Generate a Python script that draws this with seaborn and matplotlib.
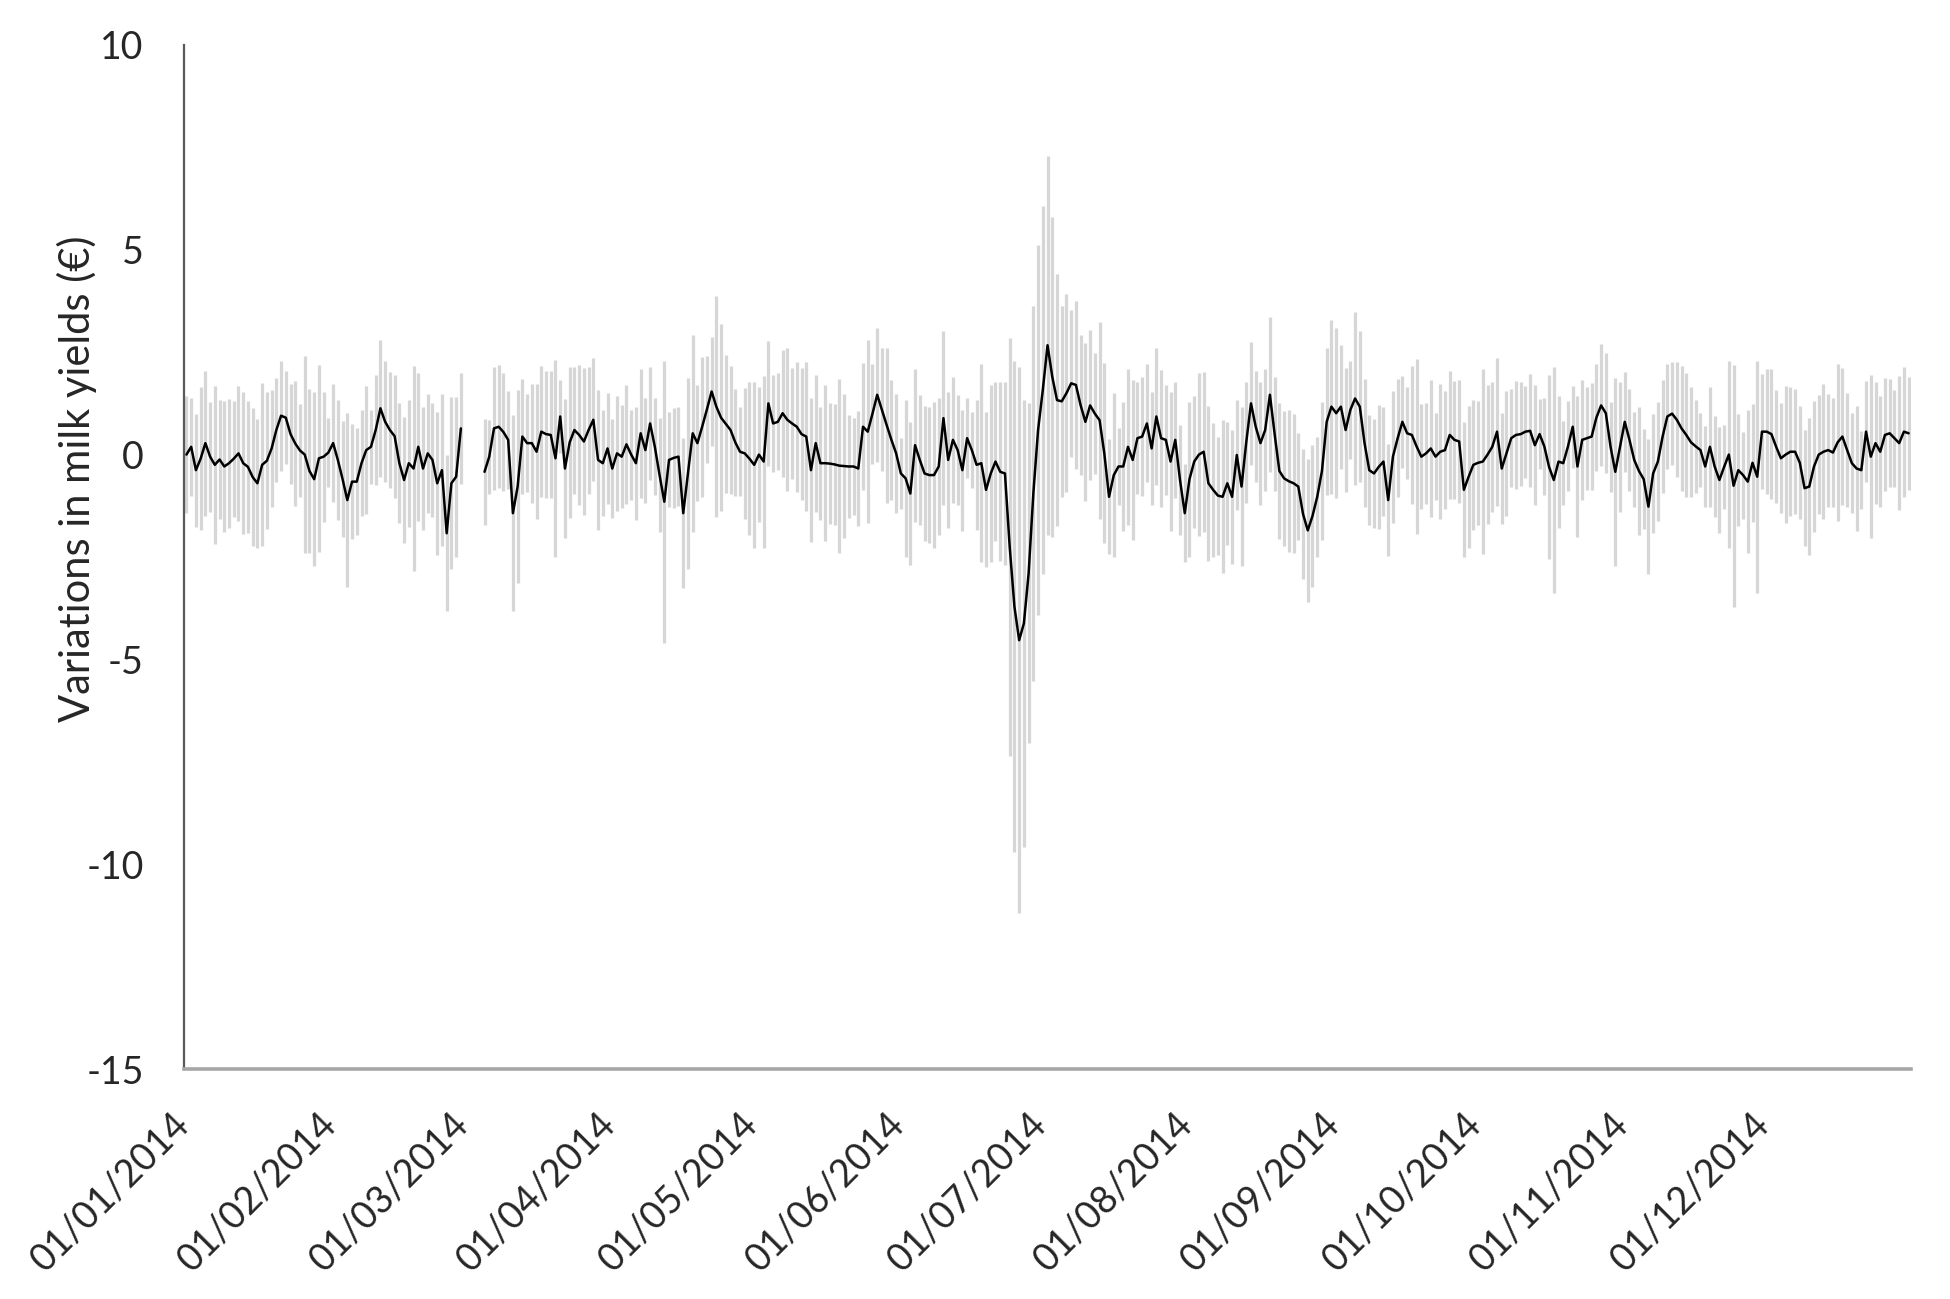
import numpy as np
import pandas as pd
import matplotlib
matplotlib.use("Agg")
import matplotlib.pyplot as plt
import seaborn as sns

nan = np.nan

# daily mean variation in milk yields, one list per month (nan = no data)
mean_jan = [0.0, 0.19, -0.38, -0.1, 0.28, -0.05, -0.25, -0.12, -0.29, -0.21,
            -0.1, 0.03, -0.21, -0.3, -0.55, -0.7, -0.25, -0.15, 0.15, 0.6,
            0.95, 0.9, 0.5, 0.27, 0.1, 0.0, -0.4, -0.6, -0.09, -0.05, 0.05]
mean_feb = [0.28, -0.13, -0.6, -1.11, -0.66, -0.66, -0.21, 0.11, 0.19, 0.6,
            1.13, 0.8, 0.6, 0.45, -0.21, -0.62, -0.21, -0.34, 0.19, -0.34,
            0.03, -0.13, -0.7, -0.38, -1.92, -0.7, -0.54, 0.64]
mean_mar = [nan, nan, nan, nan, -0.42, -0.05, 0.64, 0.68, 0.55, 0.36,
            -1.43, -0.78, 0.44, 0.28, 0.28, 0.07, 0.56, 0.5, 0.48, -0.09,
            0.93, -0.34, 0.3, 0.6, 0.48, 0.32, 0.6, 0.85, -0.13, -0.21, 0.15]
mean_apr = [-0.34, 0.03, -0.05, 0.25, 0.0, -0.21, 0.52, 0.11, 0.76, 0.19,
            -0.5, -1.15, -0.13, -0.08, -0.05, -1.43, -0.46, 0.52, 0.28, 0.68,
            1.1, 1.54, 1.17, 0.9, 0.75, 0.6, 0.3, 0.07, 0.03, -0.1]
mean_may = [-0.25, 0.0, -0.17, 1.25, 0.76, 0.8, 1.01, 0.85, 0.76, 0.68,
            0.5, 0.44, -0.38, 0.28, -0.21, -0.21, -0.22, -0.24, -0.27, -0.28,
            -0.29, -0.29, -0.34, 0.68, 0.56, 1.0, 1.46, 1.09, 0.72, 0.36, 0.03]
mean_jun = [-0.46, -0.58, -0.95, 0.23, -0.13, -0.46, -0.5, -0.5, -0.29, 0.89,
            -0.13, 0.36, 0.11, -0.38, 0.4, 0.11, -0.25, -0.21, -0.86, -0.46,
            -0.17, -0.42, -0.46, -2.25, -3.71, -4.53, -4.12, -2.9, -0.95, 0.6]
mean_jul = [1.58, 2.67, 1.9, 1.33, 1.3, 1.5, 1.74, 1.7, 1.2, 0.8,
            1.2, 1.0, 0.84, 0.03, -1.03, -0.5, -0.29, -0.29, 0.19, -0.13,
            0.4, 0.44, 0.76, 0.15, 0.93, 0.4, 0.36, -0.17, 0.36, -0.62, -1.43]
mean_aug = [-0.6, -0.17, 0.0, 0.07, -0.7, -0.86, -1.0, -1.03, -0.7, -1.03,
            -0.01, -0.78, 0.3, 1.25, 0.68, 0.28, 0.6, 1.46, 0.5, -0.4,
            -0.58, -0.65, -0.7, -0.78, -1.45, -1.85, -1.5, -1.03, -0.4, 0.8, 1.17]
mean_sep = [1.01, 1.17, 0.6, 1.09, 1.37, 1.17, 0.28, -0.38, -0.46, -0.3,
            -0.17, -1.11, -0.05, 0.4, 0.8, 0.52, 0.48, 0.2, -0.05, 0.03,
            0.15, -0.05, 0.07, 0.11, 0.48, 0.36, 0.32, -0.86, -0.54, -0.25]
mean_oct = [-0.2, -0.17, 0.0, 0.19, 0.56, -0.34, 0.03, 0.4, 0.48, 0.5,
            0.56, 0.58, 0.23, 0.5, 0.2, -0.3, -0.62, -0.17, -0.21, 0.2,
            0.68, -0.29, 0.36, 0.4, 0.44, 0.9, 1.2, 1.01, 0.19, -0.42, 0.19]
mean_nov = [0.8, 0.36, -0.13, -0.4, -0.6, -1.27, -0.46, -0.17, 0.44, 0.93,
            1.0, 0.85, 0.64, 0.48, 0.3, 0.2, 0.11, -0.29, 0.19, -0.29,
            -0.62, -0.3, 0.0, -0.76, -0.38, -0.5, -0.66, -0.2, -0.54, 0.56]
mean_dec = [0.56, 0.5, 0.19, -0.09, 0.0, 0.07, 0.07, -0.2, -0.82, -0.78,
            -0.29, 0.0, 0.07, 0.11, 0.05, 0.3, 0.44, 0.11, -0.21, -0.34,
            -0.38, 0.56, -0.05, 0.28, 0.07, 0.48, 0.52, 0.4, 0.28, 0.56, 0.52]

# half length of the daily error bars
err_jan = [1.42, 1.2, 1.38, 1.75, 1.77, 1.34, 1.93, 1.46, 1.59, 1.57,
           1.42, 1.65, 1.73, 1.61, 1.69, 1.57, 1.99, 1.67, 1.42, 1.28,
           1.34, 1.14, 1.22, 1.53, 1.14, 2.4, 2.01, 2.12, 2.28, 1.59, 0.85]
err_feb = [1.44, 1.46, 1.42, 2.12, 1.4, 1.3, 1.3, 1.57, 0.9, 1.34,
           1.67, 1.48, 1.42, 1.5, 1.46, 1.55, 1.55, 2.5, 1.8, 1.5,
           1.45, 1.4, 1.75, 1.85, 1.9, 2.1, 1.95, 1.35]
err_mar = [nan, nan, nan, nan, 1.3, 0.9, 1.5, 1.5, 1.45, 1.2,
           2.4, 2.35, 1.4, 1.2, 1.45, 1.65, 1.6, 1.55, 1.55, 2.4,
           0.9, 1.7, 1.85, 1.55, 1.7, 1.8, 1.55, 1.5, 1.7, 1.3, 1.35]
err_apr = [1.2, 1.4, 1.25, 1.46, 1.1, 1.38, 1.57, 1.28, 1.38, 1.18,
           1.4, 3.44, 1.16, 1.22, 1.2, 1.83, 2.34, 2.4, 1.42, 1.71,
           1.3, 1.34, 2.7, 2.28, 1.69, 1.57, 1.3, 1.08, 1.59, 1.87]
err_may = [2.03, 1.65, 2.1, 1.53, 1.18, 1.18, 1.55, 1.75, 1.36, 1.59,
           1.61, 1.81, 1.75, 1.67, 1.38, 1.91, 1.48, 1.48, 2.12, 1.75,
           1.26, 1.18, 1.4, 1.55, 2.24, 1.22, 1.63, 1.5, 1.89, 1.46, 1.46]
err_jun = [0.87, 1.91, 1.75, 1.87, 1.59, 1.65, 1.65, 1.79, 1.67, 2.12,
           1.67, 1.53, 1.34, 1.48, 0.98, 0.92, 1.59, 2.42, 1.89, 2.16,
           1.93, 2.18, 2.24, 5.1, 6.0, 6.67, 5.46, 4.15, 4.58, 4.52]
err_jul = [4.5, 4.63, 3.9, 3.07, 2.33, 2.42, 1.8, 2.05, 1.71, 1.93,
           1.83, 1.48, 2.4, 2.2, 1.4, 2.01, 0.94, 1.57, 1.91, 1.95,
           1.36, 1.46, 1.44, 1.38, 1.67, 1.67, 1.34, 1.69, 1.42, 1.34, 1.2]
err_aug = [1.89, 1.61, 1.99, 1.95, 1.89, 1.63, 1.44, 1.87, 1.5, 1.63,
           1.34, 1.95, 1.48, 1.5, 1.36, 1.5, 1.48, 1.89, 1.4, 1.65,
           1.65, 1.73, 1.69, 1.3, 1.59, 1.75, 1.73, 1.46, 1.69, 1.79, 2.12]
err_sep = [2.07, 1.51, 1.51, 1.2, 2.12, 1.85, 1.57, 1.34, 1.34, 1.51,
           1.32, 1.36, 1.61, 1.44, 1.12, 1.12, 1.69, 2.14, 1.28, 1.24,
           1.67, 1.06, 1.65, 1.44, 1.57, 1.44, 1.49, 1.65, 1.73, 1.59]
err_oct = [1.51, 2.26, 1.69, 1.59, 1.81, 1.36, 1.53, 1.2, 1.32, 1.26,
           1.12, 1.38, 1.46, 0.85, 1.18, 2.24, 2.75, 1.61, 1.02, 1.1,
           1.0, 1.71, 1.46, 1.26, 1.3, 1.3, 1.49, 1.46, 1.1, 2.3, 1.59]
err_nov = [1.22, 1.24, 1.16, 1.57, 1.22, 1.65, 1.46, 1.46, 1.38, 1.28,
           1.26, 1.4, 1.53, 1.51, 1.34, 1.14, 0.9, 0.98, 1.46, 1.24,
           1.3, 1.02, 2.28, 2.95, 1.36, 1.06, 1.75, 1.44, 2.83, 1.4]
err_dec = [1.53, 1.59, 1.38, 1.34, 1.67, 1.57, 1.53, 1.38, 1.42, 1.67,
           1.61, 1.46, 1.65, 1.38, 1.34, 1.91, 1.67, 1.4, 1.22, 1.53,
           0.96, 1.24, 1.99, 1.49, 1.36, 1.38, 1.32, 1.18, 1.63, 1.59, 1.38]

mean_months = [mean_jan, mean_feb, mean_mar, mean_apr, mean_may, mean_jun,
               mean_jul, mean_aug, mean_sep, mean_oct, mean_nov, mean_dec]
err_months = [err_jan, err_feb, err_mar, err_apr, err_may, err_jun,
              err_jul, err_aug, err_sep, err_oct, err_nov, err_dec]

dates = pd.date_range("2014-01-01", "2014-12-31", freq="D") + pd.Timedelta(hours=12)
df = pd.DataFrame({
    "date": dates,
    "mean": np.concatenate(mean_months),
    "err": np.concatenate(err_months),
})
# the line is broken where days are missing (early March)
df["segment"] = df["mean"].isna().cumsum()
df = df.dropna().reset_index(drop=True)

sns.set_style("white")
plt.rcParams["font.family"] = ["Lato", "DejaVu Sans"]

fig = plt.figure(figsize=(19.5, 12.99), dpi=100)
ax = fig.add_axes([0.0944, 0.177, 0.8856, 0.7884])

ax.vlines(df["date"], df["mean"] - df["err"], df["mean"] + df["err"],
          colors="#d6d6d6", linewidth=2.3, zorder=1)
sns.lineplot(data=df, x="date", y="mean", units="segment", estimator=None,
             color="black", linewidth=1.8, ax=ax, zorder=2)

ticks = pd.date_range("2014-01-01", "2015-01-01", freq="MS")
labels = [t.strftime("%d/%m/%Y") for t in ticks[:-1]] + [""]
ax.set_xlim(pd.Timestamp("2014-01-01"), pd.Timestamp("2015-01-01"))
ax.set_xticks(ticks)
ax.set_xticklabels(labels, rotation=45, ha="right", va="center",
                   rotation_mode="anchor", fontsize=27)
ax.tick_params(axis="x", length=9.5, width=1.5, color="#a6a6a6", pad=26)

ax.set_ylim(-15, 10)
ax.set_yticks([-15, -10, -5, 0, 5, 10])
ax.set_yticklabels(["-15", "-10", "-5", "0", "5", "10"], fontsize=27)
ax.tick_params(axis="y", length=0, pad=29)

ax.set_xlabel("")
ax.set_ylabel("Variations in milk yields (€)", fontsize=30)
ax.yaxis.set_label_coords(-0.0504, 0.576)

for side in ["top", "right"]:
    ax.spines[side].set_visible(False)
ax.spines["left"].set_color("#595959")
ax.spines["left"].set_linewidth(1.6)
ax.spines["bottom"].set_color("#a6a6a6")
ax.spines["bottom"].set_linewidth(2.6)

fig.savefig("out.png", dpi=100)
